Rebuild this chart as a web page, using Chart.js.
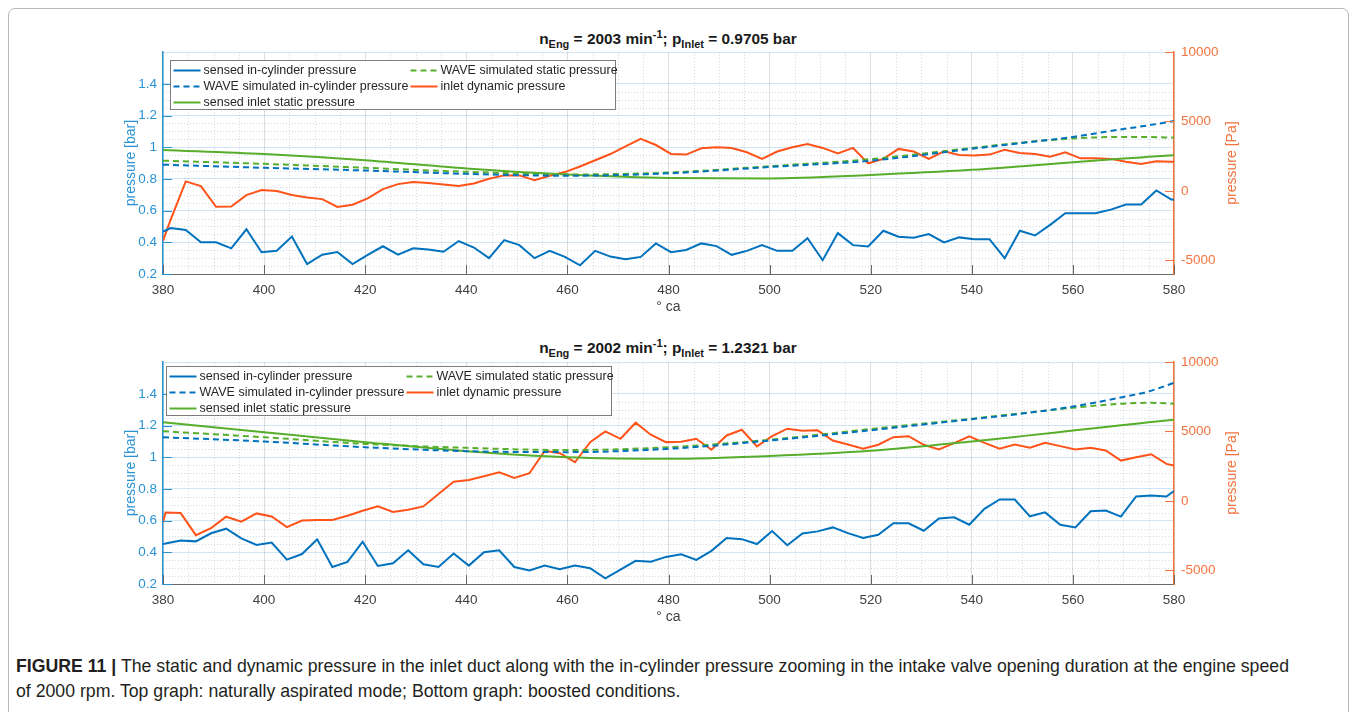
<!DOCTYPE html>
<html>
<head>
<meta charset="utf-8">
<script src="https://cdn.jsdelivr.net/npm/chart.js@4.4.1/dist/chart.umd.min.js"></script>
<style>
  body { margin: 0; background: #fff; width: 1356px; height: 712px; overflow: hidden; position: relative;
         font-family: "Liberation Sans", Arial, sans-serif; }
  .frame { position: absolute; left: 8px; top: 8px; width: 1339px; height: 760px;
           border: 1px solid #b8b8b8; border-radius: 7px; }
  .plot { position: absolute; left: 0; }
  .title { position: absolute; left: 0; width: 1336px; text-align: center; font-weight: bold;
           font-size: 15.4px; color: #1a1a1a; line-height: 17px; }
  .title sub, .title sup { font-size: 11px; }
  .caption { position: absolute; left: 16px; top: 654px; font-size: 17.7px; line-height: 25px; color: #231f20;
             white-space: nowrap; }
</style>
</head>
<body>
<div class="frame"></div>

<div class="title" style="top:26px">n<sub>Eng</sub> = 2003 min<sup>-1</sup>; p<sub>Inlet</sub> = 0.9705 bar</div>
<canvas id="topChart" class="plot" width="1356" height="289" style="top:37px"></canvas>

<div class="title" style="top:335px">n<sub>Eng</sub> = 2002 min<sup>-1</sup>; p<sub>Inlet</sub> = 1.2321 bar</div>
<canvas id="botChart" class="plot" width="1356" height="289" style="top:347px"></canvas>

<div class="caption"><b>FIGURE 11 |</b> The static and dynamic pressure in the inlet duct along with the in-cylinder pressure zooming in the intake valve opening duration at the engine speed<br>of 2000 rpm. Top graph: naturally aspirated mode; Bottom graph: boosted conditions.</div>

<script>
// crank angle of the measured samples, top graph (deg)
const caTop = [380, 381.5, 384.5, 387.5, 390.5, 393.5, 396.5, 399.5, 402.5, 405.5,
    408.5, 411.5, 414.5, 417.5, 420.5, 423.5, 426.5, 429.5, 432.5, 435.5,
    438.5, 441.5, 444.5, 447.5, 450.5, 453.5, 456.5, 459.5, 462.5, 465.5,
    468.5, 471.5, 474.5, 477.5, 480.5, 483.5, 486.5, 489.5, 492.5, 495.5,
    498.5, 501.5, 504.5, 507.5, 510.5, 513.5, 516.5, 519.5, 522.5, 525.5,
    528.5, 531.5, 534.5, 537.5, 540.5, 543.5, 546.5, 549.5, 552.5, 555.5,
    558.5, 561.5, 564.5, 567.5, 570.5, 573.5, 576.5, 579.5, 580];
// sensed in-cylinder pressure [bar]
const cylTop = [0.467, 0.49, 0.478, 0.40, 0.40, 0.362, 0.482, 0.337, 0.347, 0.436,
    0.263, 0.322, 0.339, 0.263, 0.32, 0.375, 0.322, 0.362, 0.354, 0.34,
    0.408, 0.367, 0.30, 0.414, 0.382, 0.30, 0.346, 0.308, 0.255, 0.346,
    0.31, 0.293, 0.308, 0.393, 0.338, 0.352, 0.393, 0.376, 0.321, 0.346,
    0.382, 0.346, 0.346, 0.426, 0.287, 0.458, 0.382, 0.374, 0.473, 0.435,
    0.429, 0.452, 0.399, 0.431, 0.42, 0.42, 0.30, 0.473, 0.443, 0.51,
    0.583, 0.583, 0.583, 0.606, 0.638, 0.638, 0.727, 0.67, 0.668];
// inlet dynamic pressure [Pa]
const dynTop = [-3600, -2100, 680, 340, -1150, -1130, -310, 50, -20, -310,
    -480, -600, -1160, -1010, -550, 120, 480, 630, 560, 460,
    340, 530, 870, 1110, 1110, 770, 1090, 1350, 1750, 2200,
    2650, 3200, 3750, 3300, 2660, 2610, 3070, 3140, 3090, 2780,
    2300, 2830, 3140, 3380, 3090, 2700, 3090, 1980, 2300, 3020,
    2830, 2300, 2850, 2580, 2540, 2610, 2950, 2730, 2660, 2460,
    2780, 2340, 2340, 2300, 2100, 1930, 2130, 2100, 2100];

// crank angle of the measured samples, bottom graph (deg)
const caBot = [380, 380.5, 383.5, 386.5, 389.5, 392.5, 395.5, 398.5, 401.5, 404.5,
    407.5, 410.5, 413.5, 416.5, 419.5, 422.5, 425.5, 428.5, 431.5, 434.5,
    437.5, 440.5, 443.5, 446.5, 449.5, 452.5, 455.5, 458.5, 461.5, 464.5,
    467.5, 470.5, 473.5, 476.5, 479.5, 482.5, 485.5, 488.5, 491.5, 494.5,
    497.5, 500.5, 503.5, 506.5, 509.5, 512.5, 515.5, 518.5, 521.5, 524.5,
    527.5, 530.5, 533.5, 536.5, 539.5, 542.5, 545.5, 548.5, 551.5, 554.5,
    557.5, 560.5, 563.5, 566.5, 569.5, 572.5, 575.5, 578.5, 580];
const cylBot = [0.453, 0.455, 0.474, 0.469, 0.52, 0.549, 0.488, 0.446, 0.461, 0.354,
    0.389, 0.482, 0.307, 0.339, 0.467, 0.314, 0.331, 0.413, 0.324, 0.307,
    0.392, 0.316, 0.40, 0.413, 0.307, 0.286, 0.316, 0.293, 0.316, 0.30,
    0.236, 0.29, 0.346, 0.34, 0.371, 0.388, 0.352, 0.409, 0.49, 0.483,
    0.452, 0.534, 0.445, 0.519, 0.532, 0.557, 0.521, 0.49, 0.511, 0.583,
    0.583, 0.536, 0.614, 0.621, 0.574, 0.674, 0.733, 0.733, 0.627, 0.652,
    0.574, 0.557, 0.659, 0.663, 0.625, 0.752, 0.758, 0.752, 0.786];
const dynBot = [-1560, -840, -885, -2480, -1970, -1150, -1510, -910, -1130, -1900,
    -1420, -1390, -1390, -1080, -720, -405, -810, -645, -405, 490,
    1380, 1500, 1770, 2060, 1650, 1990, 3600, 3430, 2780, 4230,
    5000, 4470, 5630, 4760, 4230, 4260, 4470, 3680, 4710, 5120,
    3920, 4660, 5200, 5050, 5080, 4350, 4060, 3750, 4040, 4590,
    4660, 4040, 3700, 4160, 4640, 4180, 3750, 4060, 3820, 4180,
    3940, 3700, 3820, 3630, 2900, 3140, 3360, 2660, 2540];

// smooth curves (WAVE results and sensed static pressure) [bar]
const caSmooth = [380, 400, 420, 440, 460, 480, 500, 520, 540, 550, 560, 570, 575, 580];
const waveCylTop    = [0.89, 0.87, 0.853, 0.832, 0.82, 0.835, 0.875, 0.915, 0.99, 1.027, 1.065, 1.115, 1.138, 1.165];
const waveStaticTop = [0.915, 0.895, 0.87, 0.845, 0.828, 0.84, 0.88, 0.925, 0.995, 1.03, 1.055, 1.065, 1.064, 1.06];
const inletStaticTop = [0.983, 0.957, 0.918, 0.866, 0.828, 0.806, 0.803, 0.825, 0.857, 0.88, 0.905, 0.928, 0.939, 0.95];
const waveCylBot    = [1.126, 1.099, 1.063, 1.038, 1.032, 1.053, 1.105, 1.17, 1.24, 1.275, 1.32, 1.38, 1.415, 1.469];
const waveStaticBot = [1.164, 1.126, 1.084, 1.059, 1.045, 1.063, 1.11, 1.178, 1.243, 1.278, 1.312, 1.338, 1.343, 1.338];
const inletStaticBot = [1.221, 1.158, 1.095, 1.038, 1.0, 0.99, 1.007, 1.04, 1.099, 1.133, 1.168, 1.203, 1.22, 1.237];

const leftTicks = [0.2, 0.4, 0.6, 0.8, 1, 1.2, 1.4];
const rightTicks = [-5000, 0, 5000, 10000];

const BLUE = '#0072bd';
const GREEN = '#58ae2b';
const ORANGE = '#ff5319';
const LEFT_AXIS = '#2a93d5';
const RIGHT_AXIS = '#f4743f';

Chart.defaults.font.family = '"Liberation Sans", Arial, sans-serif';

function pts(xs, ys) {
    return xs.map((x, i) => ({ x: x, y: ys[i] }));
}

// dotted minor grid like matlab's "grid minor"
const minorGrid = {
    id: 'minorGrid',
    beforeDatasetsDraw(chart) {
        const ctx = chart.ctx, a = chart.chartArea;
        const xs = chart.scales.x, yl = chart.scales.yL;
        ctx.save();
        ctx.lineWidth = 1;
        ctx.setLineDash([1, 2]);
        ctx.strokeStyle = 'rgba(120,150,180,0.35)';
        for (let d = 385; d < 580; d += 5) {
            if (d % 20 === 0) continue;
            const px = Math.round(xs.getPixelForValue(d)) + 0.5;
            ctx.beginPath(); ctx.moveTo(px, a.top); ctx.lineTo(px, a.bottom); ctx.stroke();
        }
        for (let k = 5; k < 28; k++) {
            if (k % 4 === 0) continue;
            const py = Math.round(yl.getPixelForValue(k * 0.05)) + 0.5;
            ctx.beginPath(); ctx.moveTo(a.left, py); ctx.lineTo(a.right, py); ctx.stroke();
        }
        ctx.setLineDash([]);
        ctx.strokeStyle = 'rgba(100,160,210,0.3)';
        ctx.beginPath(); ctx.moveTo(a.left, a.top + 0.5); ctx.lineTo(a.right, a.top + 0.5); ctx.stroke();
        ctx.restore();
    }
};

// inward tick marks and the right axis label
const axisDecor = {
    id: 'axisDecor',
    afterDatasetsDraw(chart) {
        const ctx = chart.ctx, a = chart.chartArea;
        const len = 9;
        ctx.save();
        ctx.lineWidth = 1;
        ctx.strokeStyle = '#666';
        chart.scales.x.ticks.forEach(t => {
            const px = Math.round(chart.scales.x.getPixelForValue(t.value)) + 0.5;
            ctx.beginPath(); ctx.moveTo(px, a.bottom); ctx.lineTo(px, a.bottom - len); ctx.stroke();
        });
        ctx.strokeStyle = LEFT_AXIS;
        leftTicks.forEach(v => {
            const py = Math.round(chart.scales.yL.getPixelForValue(v)) + 0.5;
            ctx.beginPath(); ctx.moveTo(a.left, py); ctx.lineTo(a.left + len, py); ctx.stroke();
        });
        ctx.strokeStyle = RIGHT_AXIS;
        rightTicks.forEach(v => {
            const py = Math.round(chart.scales.yR.getPixelForValue(v)) + 0.5;
            ctx.beginPath(); ctx.moveTo(a.right, py); ctx.lineTo(a.right - len, py); ctx.stroke();
        });
        ctx.translate(1232, (a.top + a.bottom) / 2);
        ctx.rotate(-Math.PI / 2);
        ctx.fillStyle = RIGHT_AXIS;
        ctx.font = '14px "Liberation Sans", Arial, sans-serif';
        ctx.textAlign = 'center';
        ctx.textBaseline = 'middle';
        ctx.fillText('pressure [Pa]', 0, 0);
        ctx.restore();
    }
};

// boxed two-column legend inside the axes
const boxLegend = {
    id: 'boxLegend',
    afterDatasetsDraw(chart, args, opts) {
        const ctx = chart.ctx, a = chart.chartArea;
        const x0 = Math.round(a.left + opts.dx) + 0.5, y0 = Math.round(a.top + opts.dy) + 0.5;
        const slots = [[0, 0], [0, 1], [0, 2], [1, 0], [1, 1]];
        ctx.save();
        ctx.fillStyle = '#fff';
        ctx.fillRect(x0, y0, 445, 49);
        ctx.strokeStyle = '#7d7d7d';
        ctx.lineWidth = 1;
        ctx.strokeRect(x0, y0, 445, 49);
        ctx.font = '12.5px "Liberation Sans", Arial, sans-serif';
        ctx.textBaseline = 'middle';
        chart.data.datasets.forEach((ds, i) => {
            const col = slots[i][0], row = slots[i][1];
            const lx = x0 + (col ? 240 : 3);
            const ly = y0 + 10 + row * 16;
            ctx.strokeStyle = ds.borderColor;
            ctx.lineWidth = 2;
            ctx.setLineDash(ds.borderDash || []);
            ctx.beginPath(); ctx.moveTo(lx, ly); ctx.lineTo(lx + 27, ly); ctx.stroke();
            ctx.setLineDash([]);
            ctx.fillStyle = '#262626';
            ctx.fillText(ds.label, lx + 30, ly + 0.5);
        });
        ctx.restore();
    }
};

function makeChart(id, ca, cyl, dyn, waveCyl, waveStatic, inletStatic, legendOffset) {
    const solid = { pointRadius: 0, borderWidth: 2, tension: 0, yAxisID: 'yL' };
    const smooth = { pointRadius: 0, borderWidth: 2, cubicInterpolationMode: 'monotone', yAxisID: 'yL' };
    return new Chart(document.getElementById(id), {
        type: 'line',
        data: {
            datasets: [
                Object.assign({ label: 'sensed in-cylinder pressure', data: pts(ca, cyl), borderColor: BLUE }, solid),
                Object.assign({ label: 'WAVE simulated in-cylinder pressure', data: pts(caSmooth, waveCyl),
                    borderColor: BLUE, borderDash: [6, 4] }, smooth),
                Object.assign({ label: 'sensed inlet static pressure', data: pts(caSmooth, inletStatic),
                    borderColor: GREEN }, smooth),
                Object.assign({ label: 'WAVE simulated static pressure', data: pts(caSmooth, waveStatic),
                    borderColor: GREEN, borderDash: [6, 4] }, smooth),
                Object.assign({ label: 'inlet dynamic pressure', data: pts(ca, dyn), borderColor: ORANGE },
                    solid, { yAxisID: 'yR' })
            ]
        },
        options: {
            responsive: false,
            animation: false,
            devicePixelRatio: 1,
            layout: { padding: { left: 120, right: 114, top: 12, bottom: 0 } },
            plugins: {
                legend: { display: false },
                tooltip: { enabled: false },
                boxLegend: legendOffset
            },
            scales: {
                x: {
                    type: 'linear',
                    min: 380,
                    max: 580,
                    ticks: { stepSize: 20, color: '#404040', font: { size: 13.5 }, padding: 8,
                        maxRotation: 0, callback: v => String(v) },
                    grid: { color: 'rgba(0,0,0,0.13)', drawTicks: false },
                    border: { color: '#6a6a6a', width: 1 },
                    title: { display: true, text: '° ca', color: '#404040', font: { size: 14 },
                        padding: { top: 0, bottom: 10 } },
                    afterFit: s => { s.height = 52; }
                },
                yL: {
                    type: 'linear',
                    position: 'left',
                    min: 0.2,
                    max: 1.6,
                    afterBuildTicks: s => { s.ticks = leftTicks.map(v => ({ value: v })); },
                    ticks: { color: LEFT_AXIS, font: { size: 13.5 }, padding: 6, callback: v => String(v) },
                    grid: { color: 'rgba(100,165,215,0.3)', drawTicks: false },
                    border: { color: LEFT_AXIS, width: 1.5 },
                    title: { display: true, text: 'pressure [bar]', color: LEFT_AXIS, font: { size: 14 },
                        padding: { top: 3, bottom: 0 } },
                    afterFit: s => { s.width = 43; }
                },
                yR: {
                    type: 'linear',
                    position: 'right',
                    min: -6000,
                    max: 10000,
                    afterBuildTicks: s => { s.ticks = rightTicks.map(v => ({ value: v })); },
                    ticks: { color: RIGHT_AXIS, font: { size: 13.5 }, padding: 7, callback: v => String(v) },
                    grid: { drawOnChartArea: false, drawTicks: false },
                    border: { color: RIGHT_AXIS, width: 1.5 },
                    afterFit: s => { s.width = 68; }
                }
            }
        },
        plugins: [minorGrid, axisDecor, boxLegend]
    });
}

makeChart('topChart', caTop, cylTop, dynTop, waveCylTop, waveStaticTop, inletStaticTop, { dx: 7, dy: 8 });
makeChart('botChart', caBot, cylBot, dynBot, waveCylBot, waveStaticBot, inletStaticBot, { dx: 3, dy: 4 });
</script>
</body>
</html>
